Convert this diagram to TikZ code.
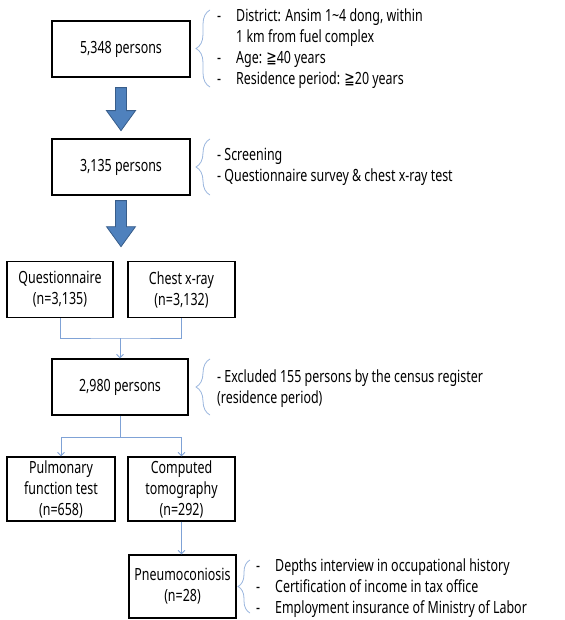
\documentclass[tikz,border=0pt]{standalone}
\usepackage{fontspec}
\setmainfont{Noto Sans}[FakeStretch=0.74]
\newfontfamily\symbfont{DejaVu Sans}[FakeStretch=0.74]
\usetikzlibrary{arrows.meta,calc,decorations.pathreplacing}
\definecolor{arrowBlue}{HTML}{4F81BD}
\definecolor{arrowEdge}{HTML}{385D8A}
\definecolor{linkBlue}{HTML}{7FA2D6}
\definecolor{braceBlue}{HTML}{9AB6DE}

\begin{document}
\begin{tikzpicture}[
  x=1pt, y=-1pt,
  font=\fontsize{16.8}{21}\selectfont,
  box/.style={draw=black, line width=1.3pt, fill=white, align=center, inner sep=0pt},
  note/.style={anchor=west, align=left, inner sep=0pt},
  link/.style={draw=linkBlue, line width=0.8pt},
  linkarrow/.style={link, -{Straight Barb[length=3.5pt, width=7pt]}},
  curly/.style={draw=braceBlue, line width=0.8pt, decorate, decoration={brace, amplitude=#1}},
  fatarrow/.style={fill=arrowBlue, draw=arrowEdge, line width=0.8pt}
]
\useasboundingbox (0,0) rectangle (564,620);

% main boxes
\node[box, minimum width=138pt, minimum height=56pt] (pop) at (121,49) {5,348 persons};
\node[box, minimum width=138pt, minimum height=56pt] (screen) at (121,167) {3,135 persons};
\node[box, minimum width=106pt, minimum height=56pt] (quest) at (60,289.5) {Questionnaire\\(n=3,135)};
\node[box, minimum width=107pt, minimum height=56pt] (xray) at (181.5,289.5) {Chest x-ray\\(n=3,132)};
\node[box, minimum width=136pt, minimum height=56pt] (valid) at (120,387) {2,980 persons};
\node[box, minimum width=108pt, minimum height=64pt] (pft) at (61,489) {Pulmonary\\function test\\(n=658)};
\node[box, minimum width=107pt, minimum height=64pt] (ct) at (181.5,489) {Computed\\tomography\\(n=292)};
\node[box, minimum width=107pt, minimum height=63pt] (pneumo) at (182.5,586.5) {Pneumoconiosis\\(n=28)};

% side notes
\node[note] (criteria) at (217,49) {\begin{tabular}{@{}l@{\hspace{15pt}}l@{}}
  - & District: Ansim 1\textasciitilde4 dong, within\\
    & 1 km from fuel complex\\
  - & Age: {\symbfont ≧}40 years\\
  - & Residence period: {\symbfont ≧}20 years
\end{tabular}};
\node[note] (survey) at (217,167) {- Screening\\- Questionnaire survey \& chest x-ray test};
\node[note] (census) at (217,389) {- Excluded 155 persons by the census register\\(residence period)};
\node[note] (confirm) at (256,588) {\begin{tabular}{@{}l@{\hspace{15pt}}l@{}}
  - & Depths interview in occupational history\\
  - & Certification of income in tax office\\
  - & Employment insurance of Ministry of Labor
\end{tabular}};

% braces
\draw[curly=14pt] (210,87) -- (210,10);
\draw[curly=14pt] (210,195) -- (210,139);
\draw[curly=14pt] (210,415) -- (210,359);
\draw[curly=12pt] (250,613) -- (250,560);

% block arrows
\foreach \src/\gap/\shaft in {pop/10/23, screen/5/26} {
  \draw[fatarrow] ($(\src.south)+(-5.5,\gap)$) -- ++(11,0) -- ++(0,\shaft) -- ++(9,0)
    -- ++(-14.5,20) -- ++(-14.5,-20) -- ++(9,0) -- cycle;
}

% thin connectors
\coordinate (merge) at (120,338);
\coordinate (split) at (120,437);
\draw[link] (quest.south) |- (merge) -| (xray.south);
\draw[linkarrow] (merge) -- (merge |- valid.north);
\draw[link] (valid.south) -- (split);
\draw[linkarrow] (split) -| (pft.north);
\draw[linkarrow] (split) -| (ct.north);
\draw[linkarrow] (ct.south) -- (ct.south |- pneumo.north);
\end{tikzpicture}
\end{document}
